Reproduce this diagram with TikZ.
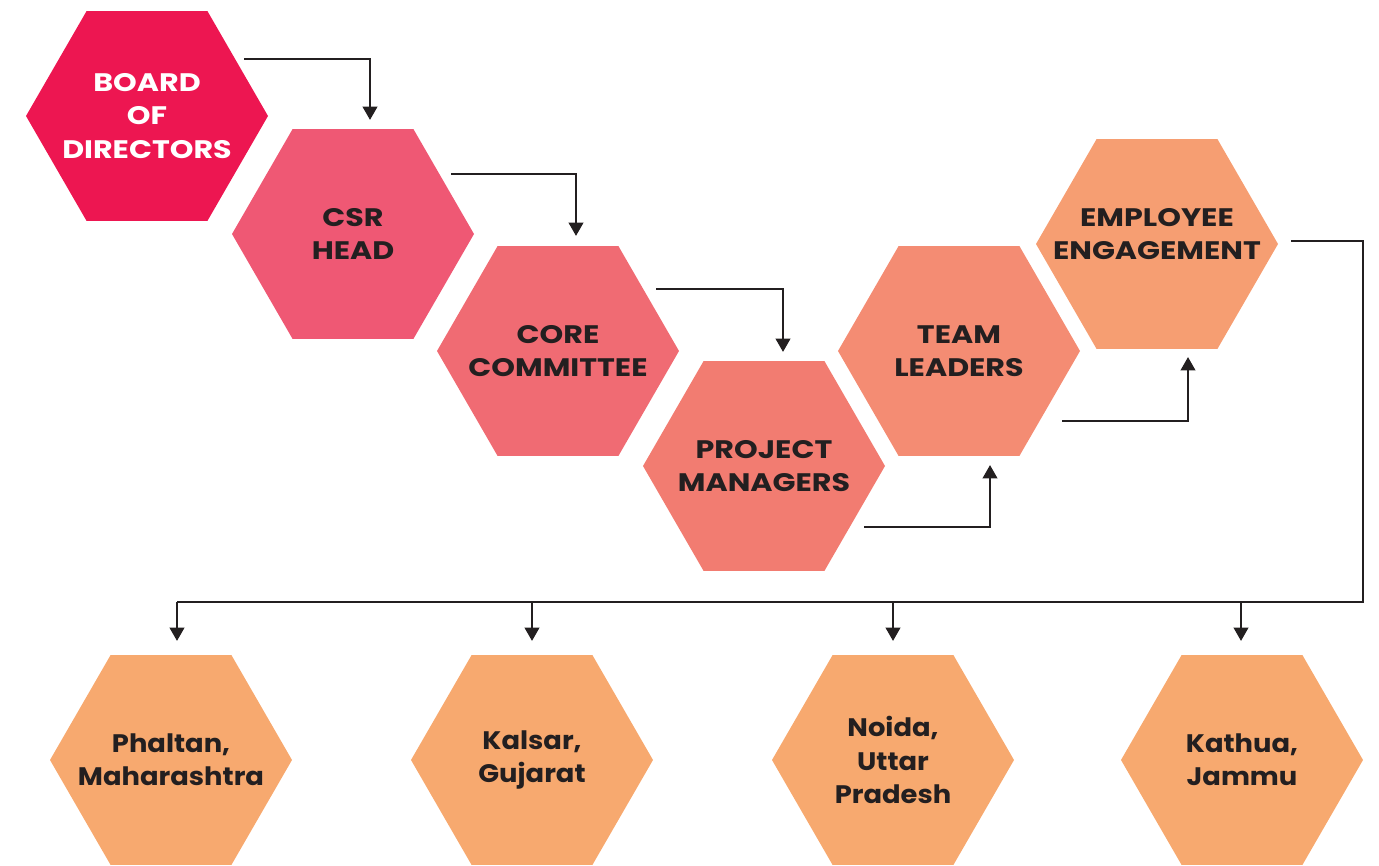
\documentclass[tikz,border=0pt]{standalone}
\usepackage{fontspec}
\setmainfont{Poppins}
\newfontfamily\capsfont{Poppins}[FakeStretch = 1.19]
\newfontfamily\sitefont{Poppins}[FakeStretch = 1.08]
\usepackage{tikz}
\usetikzlibrary{positioning, calc, shapes.geometric, arrows.meta}

\definecolor{boardred}{HTML}{ED1651}
\definecolor{csrpink}{HTML}{EF5874}
\definecolor{corepink}{HTML}{F06B73}
\definecolor{pmsalmon}{HTML}{F27C71}
\definecolor{tlsalmon}{HTML}{F48C73}
\definecolor{eeorange}{HTML}{F69E72}
\definecolor{siteorange}{HTML}{F7A96F}
\definecolor{inkdark}{HTML}{231F20}

\tikzset{
    hexa/.style = {regular polygon, regular polygon sides = 6, minimum size
    = 181.5pt, inner sep = 0pt},
    role/.style = {align = center, text = inkdark,
    font = \fontsize{19}{25}\selectfont\capsfont\bfseries},
    site/.style = {align = center, text = inkdark,
    font = \fontsize{19}{25}\selectfont\sitefont\bfseries},
    link/.style = {draw = inkdark, line width = 1.5pt,
    -{Triangle[length = 10pt, width = 11pt]}}
}

\begin{document}
\begin{tikzpicture}[x = 0.75pt, y = -0.75pt]
        \useasboundingbox (0,0) rectangle (1379,866);
        % chain of roles
        \node [hexa, fill = boardred, label = {[role, text = white]center:
        BOARD\\OF\\DIRECTORS}] (board) at (147,116) {};
        \node [hexa, fill = csrpink, label = {[role]center:CSR\\HEAD}] (csr)
        at (353,234) {};
        \node [hexa, fill = corepink, label = {[role]center:CORE\\COMMITTEE}]
        (core) at (558,351) {};
        \node [hexa, fill = pmsalmon, label = {[role]center:PROJECT\\MANAGERS}]
        (pm) at (764,466) {};
        \node [hexa, fill = tlsalmon, label = {[role]center:TEAM\\LEADERS}]
        (tl) at (959,351) {};
        \node [hexa, fill = eeorange, label = {[role, yshift = 7.5pt]center:
        EMPLOYEE\\ENGAGEMENT}] (ee) at (1157,244) {};
        % sites
        \node [hexa, fill = siteorange, label = {[site]center:
        Phaltan,\\Maharashtra}] (phaltan) at (171,760) {};
        \node [hexa, fill = siteorange, label = {[site]center:
        Kalsar,\\Gujarat}] (kalsar) at (532,760) {};
        \node [hexa, fill = siteorange, label = {[site]center:
        Noida,\\Uttar\\Pradesh}] (noida) at (893,760) {};
        \node [hexa, fill = siteorange, label = {[site]center:
        Kathua,\\Jammu}] (kathua) at (1242,760) {};
        \coordinate (bus) at (1363,602);
        \draw [link] ($(board) + (97,-57)$) -| ($(csr.north) + (17,-9)$);
        \draw [link] ($(csr) + (98,-60)$) -| ($(core.north) + (18,-10)$);
        \draw [link] ($(core) + (98,-62)$) -| ($(pm.north) + (19,-9)$);
        \draw [link] ($(pm) + (100,61)$) -| ($(tl.south) + (31,9)$);
        \draw [link] ($(tl) + (103,70)$) -| ($(ee.south) + (31,8)$);
        \draw [draw = inkdark, line width = 1.5pt] ($(ee) + (134,-3)$) -|
        (bus) -- ($(phaltan.north |- bus) + (6,0)$);
        \foreach \site/\dx in {phaltan/6, kalsar/0, noida/0, kathua/-1}
        \draw [link] ($(\site.north |- bus) + (\dx,0)$) --
        ($(\site.north) + (\dx,-14)$);
\end{tikzpicture}
\end{document}
